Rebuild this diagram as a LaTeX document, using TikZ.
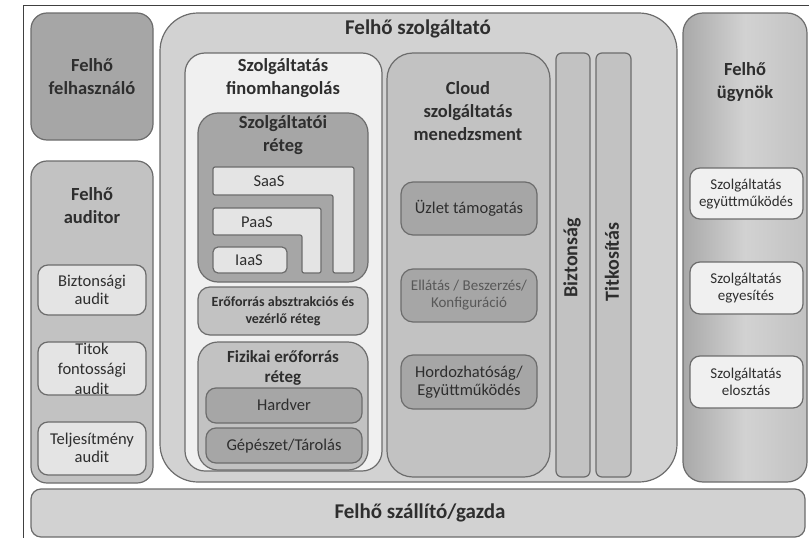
\documentclass[tikz,border=0pt]{standalone}
\usepackage{fontspec}
\setmainfont{Carlito}
\usepackage{tikz}
\definecolor{edge}{HTML}{6C6C6C}
\definecolor{txtc}{HTML}{2E2E2E}
\definecolor{gA}{HTML}{A6A6A6}
\definecolor{gB}{HTML}{C2C2C2}
\definecolor{gC}{HTML}{D2D2D2}
\definecolor{gD}{HTML}{E4E4E4}
\definecolor{gE}{HTML}{F0F0F0}
\tikzset{panel/.style={draw=edge, line width=1.2pt, rounded corners=#1},
  panel/.default=14pt}
\tikzset{txt/.style={align=center, text=txtc, inner sep=0pt}}
\newcommand{\fhBig}{\fontsize{18.5}{23}\selectfont\bfseries}
\newcommand{\fhBigTight}{\fontsize{17}{20}\selectfont\bfseries}
\newcommand{\fhBar}{\fontsize{20}{24}\selectfont\bfseries}
\newcommand{\fhHuge}{\fontsize{21}{24}\selectfont\bfseries}
\newcommand{\fhSub}{\fontsize{14}{17}\selectfont\bfseries}
\newcommand{\fhMid}{\fontsize{16.5}{18}\selectfont}
\newcommand{\fhMidLoose}{\fontsize{16.5}{20}\selectfont}
\newcommand{\fhSmall}{\fontsize{15}{17}\selectfont}
\begin{document}
\begin{tikzpicture}[x=1pt, y=-1pt]
\useasboundingbox (0,0) rectangle (809,538);

\draw[black!75, line width=1pt] (23,538) -- (23,5) -- (809,5);

% left column
\draw[panel=16pt, fill=gA] (31,13) rectangle (153,140);
\node[txt, font=\fhBig] (user) at (92,77) {Felhő\\felhasználó};

\draw[panel=16pt, fill=gB] (31,161) rectangle (153,483);
\node[txt, font=\fhBig] (auditor) at (92,206) {Felhő\\auditor};
\draw[panel=10pt, fill=gD] (38,265) rectangle (146,315);
\node[txt, font=\fhMid] (secaudit) at (92,290) {Biztonsági\\audit};
\draw[panel=10pt, fill=gD] (38,342) rectangle (146,395);
\node[txt, font=\fhMidLoose] (privaudit) at (92,369) {Titok\\fontossági\\audit};
\draw[panel=10pt, fill=gD] (38,422) rectangle (146,475);
\node[txt, font=\fhMid] (perfaudit) at (92,448) {Teljesítmény\\audit};

% provider
\draw[panel=38pt, fill=gC] (160,13) rectangle (677,482);
\node[txt, font=\fhHuge] (provider) at (418,29) {Felhő szolgáltató};

\draw[panel=20pt, fill=gE] (185,53) rectangle (382,471);
\node[txt, font=\fhBig] (orch) at (283,78) {Szolgáltatás\\finomhangolás};

\draw[panel=20pt, fill=gA] (198,113) rectangle (368,282);
\node[txt, font=\fhBig] (svclayer) at (283,135) {Szolgáltatói\\réteg};
\draw[edge, line width=1.2pt, fill=gD, rounded corners=2pt]
  (213,167) -- (354,167) -- (354,273) -- (333,273) -- (333,195) -- (213,195) -- cycle;
\node[txt, font=\fhMid] (saas) at (269,181) {SaaS};
\draw[edge, line width=1.2pt, fill=gD, rounded corners=2pt]
  (213,208) -- (321,208) -- (321,273) -- (302,273) -- (302,235) -- (213,235) -- cycle;
\node[txt, font=\fhMid] (paas) at (257,222) {PaaS};
\draw[panel=5pt, fill=gD] (213,247) rectangle (287,273);
\node[txt, font=\fhMid] (iaas) at (249,260) {IaaS};

\draw[panel=12pt, fill=gB] (198,287) rectangle (368,335);
\node[txt, font=\fhSub] (abstr) at (283,311) {Erőforrás absztrakciós és\\vezérlő réteg};

\draw[panel=20pt, fill=gB] (198,342) rectangle (368,470);
\node[txt, font=\fhBigTight] (phys) at (283,368) {Fizikai erőforrás\\réteg};
\draw[panel=10pt, fill=gA] (206,388) rectangle (362,423);
\node[txt, font=\fhMid] (hw) at (284,405) {Hardver};
\draw[panel=10pt, fill=gA] (206,428) rectangle (362,463);
\node[txt, font=\fhMid] (fac) at (284,446) {Gépészet/Tárolás};

\draw[panel=26pt, fill=gB] (387,53) rectangle (550,477);
\node[txt, font=\fhBig] (mgmt) at (468,111) {Cloud\\szolgáltatás\\menedzsment};
\draw[panel=12pt, fill=gA] (401,182) rectangle (537,235);
\node[txt, font=\fhMid] (bus) at (469,208) {Üzlet támogatás};
\draw[panel=12pt, fill=gA] (401,269) rectangle (537,322);
\node[txt, font=\fhSmall, text=txtc!80] (prov) at (469,295) {Ellátás / Beszerzés/\\Konfiguráció};
\draw[panel=12pt, fill=gA] (401,355) rectangle (537,409);
\node[txt, font=\fhMid] (port) at (469,382) {Hordozhatóság/\\Együttműködés};

\draw[panel=6pt, fill=gB] (556,53) rectangle (590,477);
\node[txt, font=\fhBar, rotate=90] (sec) at (572,258) {Biztonság};
\draw[panel=6pt, fill=gB] (596,53) rectangle (631,477);
\node[txt, font=\fhBar, rotate=90] (priv) at (612,262) {Titkosítás};

% broker
\draw[panel=20pt, left color=gA!90!gB, right color=gB, middle color=gC] (683,13) rectangle (807,482);
\node[txt, font=\fhBig] (broker) at (745,82) {Felhő\\ügynök};
\draw[panel=10pt, fill=gE] (690,168) rectangle (803,219);
\node[txt, font=\fhSmall] (interm) at (746,194) {Szolgáltatás\\együttműködés};
\draw[panel=10pt, fill=gE] (690,262) rectangle (803,314);
\node[txt, font=\fhSmall] (aggr) at (746,288) {Szolgáltatás\\egyesítés};
\draw[panel=10pt, fill=gE] (690,356) rectangle (803,408);
\node[txt, font=\fhSmall] (arbit) at (746,382) {Szolgáltatás\\elosztás};

% carrier
\draw[panel=10pt, fill=gC] (31,489) rectangle (805,537);
\node[txt, font=\fhHuge] (carrier) at (420,513) {Felhő szállító/gazda};

\end{tikzpicture}
\end{document}
